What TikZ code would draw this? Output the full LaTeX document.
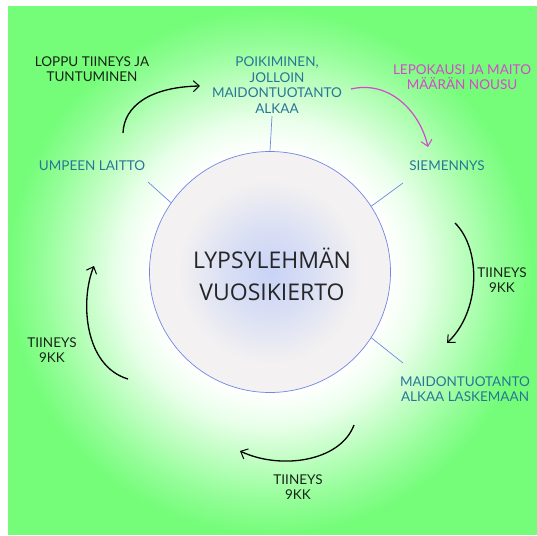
\documentclass[tikz,border=0pt]{standalone}
\usepackage{fontspec}
\setmainfont{Lato}
\newfontfamily\titlefont{Open Sans}
\usetikzlibrary{arrows.meta}
\definecolor{bggreen}{RGB}{117,253,122}
\definecolor{tealtxt}{RGB}{40,118,150}
\definecolor{magtxt}{RGB}{214,72,204}
\definecolor{darktxt}{RGB}{22,36,22}
\definecolor{ringblue}{RGB}{112,136,226}
\definecolor{hubcenter}{RGB}{200,211,246}
\definecolor{hubedge}{RGB}{243,241,241}
\colorlet{glowA}{bggreen!15!white}
\colorlet{glowB}{bggreen!45!white}
\colorlet{glowC}{bggreen!75!white}
\colorlet{hubmid}{hubcenter!60!hubedge}
\pgfdeclareradialshading{glow}{\pgfpoint{0bp}{0bp}}{%
  color(0bp)=(white); color(11.5bp)=(white); color(14.5bp)=(glowA);
  color(18bp)=(glowB); color(21.5bp)=(glowC); color(25bp)=(bggreen); color(50bp)=(bggreen)}
\pgfdeclareradialshading{hubshade}{\pgfpoint{0bp}{0bp}}{%
  color(0bp)=(hubcenter); color(9bp)=(hubmid); color(19bp)=(hubedge); color(25bp)=(hubedge); color(50bp)=(hubedge)}
\tikzset{
  lbl/.style={font=\fontsize{13.5}{15.5}\selectfont, align=center, inner sep=0pt},
  teal/.style={lbl, text=tealtxt},
  dark/.style={lbl, text=darktxt},
  mag/.style={lbl, text=magtxt},
  tick/.style={draw=ringblue, line width=0.7pt},
  hand/.style={line width=1.3pt, black, -{Straight Barb[length=6pt,width=11pt,line width=1pt]}},
  handm/.style={line width=1.2pt, magtxt, -{Straight Barb[length=6pt,width=11pt,line width=1pt]}}
}
\begin{document}
\begin{tikzpicture}[x=1pt,y=-1pt]
\useasboundingbox (0,0) rectangle (537,535);
\fill[white] (0,0) rectangle (537,535);
\fill[bggreen] (8,6) rectangle (537,535);
\begin{scope}
\clip (8,6) rectangle (537,535);
\shade[shading=glow] (270,272) circle (262);
\end{scope}
% hub
\node[circle, minimum size=241pt, inner sep=0pt, draw=ringblue, line width=0.7pt, shading=hubshade] (hub) at (270,272) {};
\node[font=\titlefont\fontsize{23}{32}\selectfont, align=center, text=black!85] (title) at (272,274) {LYPSYLEHMÄN\\VUOSIKIERTO};
% labels
\node[teal] (poik) at (277,85) {POIKIMINEN,\\JOLLOIN\\MAIDONTUOTANTO\\ALKAA};
\node[dark] (loppu) at (92,69) {LOPPU TIINEYS JA\\TUNTUMINEN};
\node[mag] (lepo) at (462,77) {LEPOKAUSI JA MAITO\\MÄÄRÄN NOUSU};
\node[teal] (umpeen) at (92,166) {UMPEEN LAITTO};
\node[teal] (siem) at (447,166) {SIEMENNYS};
\node[dark] (tiiR) at (502,280) {TIINEYS\\9KK};
\node[dark] (tiiL) at (52,350) {TIINEYS\\9KK};
\node[teal] (laske) at (465,389) {MAIDONTUOTANTO\\ALKAA LASKEMAAN};
\node[dark] (tiiB) at (298,487) {TIINEYS\\9KK};
% ticks
\coordinate (tTop) at (272,116);
\coordinate (tUL) at (148,182);
\coordinate (tUR) at (403,183);
\coordinate (tLR) at (403,363);
\draw[tick] (tTop) -- (hub.90);
\draw[tick] (tUL) -- (hub.145);
\draw[tick] (tUR) -- (hub.33);
\draw[tick] (tLR) -- (hub.-33);
% arrows
\coordinate (a1s) at (123,133);
\coordinate (a1e) at (200,86);
\coordinate (a2s) at (351,89);
\coordinate (a2e) at (428,147);
\coordinate (a3s) at (455,223);
\coordinate (a3e) at (447,343);
\coordinate (a4s) at (354,425);
\coordinate (a4e) at (240,451);
\coordinate (a5s) at (128,379);
\coordinate (a5e) at (94,266);
\draw[hand] (a1s) .. controls (124,106) and (150,87) .. (a1e);
\draw[handm] (a2s) .. controls (390,80) and (420,112) .. (a2e);
\draw[hand] (a3s) .. controls (482,250) and (480,312) .. (a3e);
\draw[hand] (a4s) .. controls (340,462) and (280,470) .. (a4e);
\draw[hand] (a5s) .. controls (84,366) and (80,300) .. (a5e);
\end{tikzpicture}
\end{document}
